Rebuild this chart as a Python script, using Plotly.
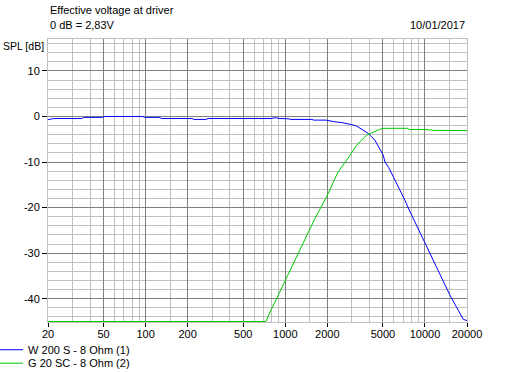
import plotly.graph_objects as go

# ---- data ----
blue_name = "W 200 S - 8 Ohm (1)"
blue_freq = [20, 21.4, 22, 35, 36, 49, 51, 95, 98, 125, 130, 215, 222, 270, 280, 800, 830, 870, 900,
             1050, 1100, 1550, 1600, 1950, 2100, 2300, 2500, 2750, 3000, 3240, 3450, 3720, 3920, 4040,
             4380, 4700, 5030, 5170, 5500, 5930, 6400, 6990, 7190, 7600, 8240, 9050, 9990, 10850, 11460,
             13500, 15090, 18790, 20000]
blue_db = [-0.7, -0.6, -0.45, -0.45, -0.2, -0.2, 0.0, 0.0, -0.2, -0.2, -0.45, -0.45, -0.65, -0.65, -0.45,
           -0.45, -0.3, -0.3, -0.45, -0.5, -0.65, -0.65, -0.8, -0.8, -1.0, -1.2, -1.3, -1.5, -1.8, -2.1,
           -2.6, -3.2, -3.7, -4.1, -5.2, -6.9, -8.5, -10.0, -11.2, -13.2, -15.2, -17.6, -18.4, -20.1,
           -22.4, -24.9, -27.9, -30.0, -31.5, -36.1, -39.2, -44.5, -44.8]

green_name = "G 20 SC - 8 Ohm (2)"
green_freq = [20, 727, 760, 1006, 1274, 1630, 1977, 2393, 2749, 3243, 3820, 4383, 4760, 5000, 7550,
              7700, 10500, 10800, 11000, 11300, 20000]
green_db = [-45.0, -45.0, -43.6, -35.9, -29.4, -22.4, -17.6, -12.1, -9.6, -6.3, -4.1, -3.2, -2.8,
            -2.6, -2.6, -2.85, -2.85, -3.05, -2.9, -3.05, -3.1]

x_major = [20, 50, 100, 200, 500, 1000, 2000, 5000, 10000, 20000]
x_major_text = ["20", "50", "100", "200", "500", "1000", "2000", "5000", "10000", "20000"]
x_minor = [30, 40, 60, 70, 80, 90, 150, 300, 400, 600, 700, 800, 900, 1500, 3000, 4000,
           6000, 7000, 8000, 9000, 15000]
y_major = [-40, -30, -20, -10, 0, 10]
y_major_text = ["-40", "-30", "-20", "-10", "0", "10"]

title1 = "Effective voltage at driver"
title2 = "0 dB = 2,83V"
date_text = "10/01/2017"
y_title = "SPL [dB]"

FONT = "Liberation Sans, Arial, sans-serif"
DARK = "#808080"
LIGHT = "#c0c0c0"

fig = go.Figure()
fig.add_trace(go.Scatter(x=blue_freq, y=blue_db, mode="lines", name=blue_name,
                         line=dict(color="#0000ff", width=1), legend="legend"))
fig.add_trace(go.Scatter(x=green_freq, y=green_db, mode="lines", name=green_name,
                         line=dict(color="#00c800", width=1), legend="legend2"))

leg = dict(xanchor="left", yanchor="middle", orientation="v",
           font=dict(family=FONT, size=11, color="black"), itemwidth=30,
           bgcolor="rgba(0,0,0,0)", borderwidth=0)

fig.update_layout(
    width=505, height=372,
    margin=dict(l=48, r=38, t=39, b=50, pad=0, autoexpand=False),
    paper_bgcolor="white", plot_bgcolor="white",
    font=dict(family=FONT, size=11, color="black"),
    showlegend=True,
    legend=dict(x=-0.143, y=-0.098, **leg),
    legend2=dict(x=-0.143, y=-0.1455, **leg),
    xaxis=dict(type="log", range=[1.30103, 4.30103], tickmode="array",
               tickvals=x_major, ticktext=x_major_text,
               showgrid=True, gridcolor=DARK, gridwidth=1,
               ticks="outside", ticklen=4, tickcolor="#000000", tickwidth=1,
               ticklabelstandoff=-2,
               showline=True, linecolor=LIGHT, mirror=True, zeroline=False,
               tickfont=dict(size=11),
               minor=dict(tickmode="array", tickvals=x_minor, showgrid=True,
                          gridcolor=LIGHT, gridwidth=1, ticks="")),
    yaxis=dict(range=[-45.1, 17], tickmode="array", tickvals=y_major, ticktext=y_major_text,
               showgrid=True, gridcolor=DARK, gridwidth=1,
               ticks="outside", ticklen=5, tickcolor="#000000", tickwidth=1,
               showline=True, linecolor=LIGHT, mirror=True, zeroline=False,
               tickfont=dict(size=11),
               minor=dict(dtick=2, tick0=0, showgrid=True, gridcolor=LIGHT,
                          gridwidth=1, ticks="")),
)

ann = dict(showarrow=False, font=dict(family=FONT, size=11, color="black"),
           xref="paper", yref="paper")
fig.add_annotation(text=title1, x=0, y=1.1025, xanchor="left", yanchor="middle", **ann)
fig.add_annotation(text=title2, x=0, y=1.049, xanchor="left", yanchor="middle", **ann)
fig.add_annotation(text=date_text, x=1.0, y=1.049, xanchor="right", yanchor="middle", **ann)
fig.add_annotation(text=y_title, x=-0.1122, y=0.974, xanchor="left", yanchor="middle",
                   showarrow=False, xref="paper", yref="paper",
                   font=dict(family=FONT, size=10.5, color="black"))

# remove the browser's default 8px body margin so the figure fills the window
fig.write_html("out.html", config={"displayModeBar": False},
               post_script="document.body.style.margin='0';document.body.style.overflow='hidden';")
